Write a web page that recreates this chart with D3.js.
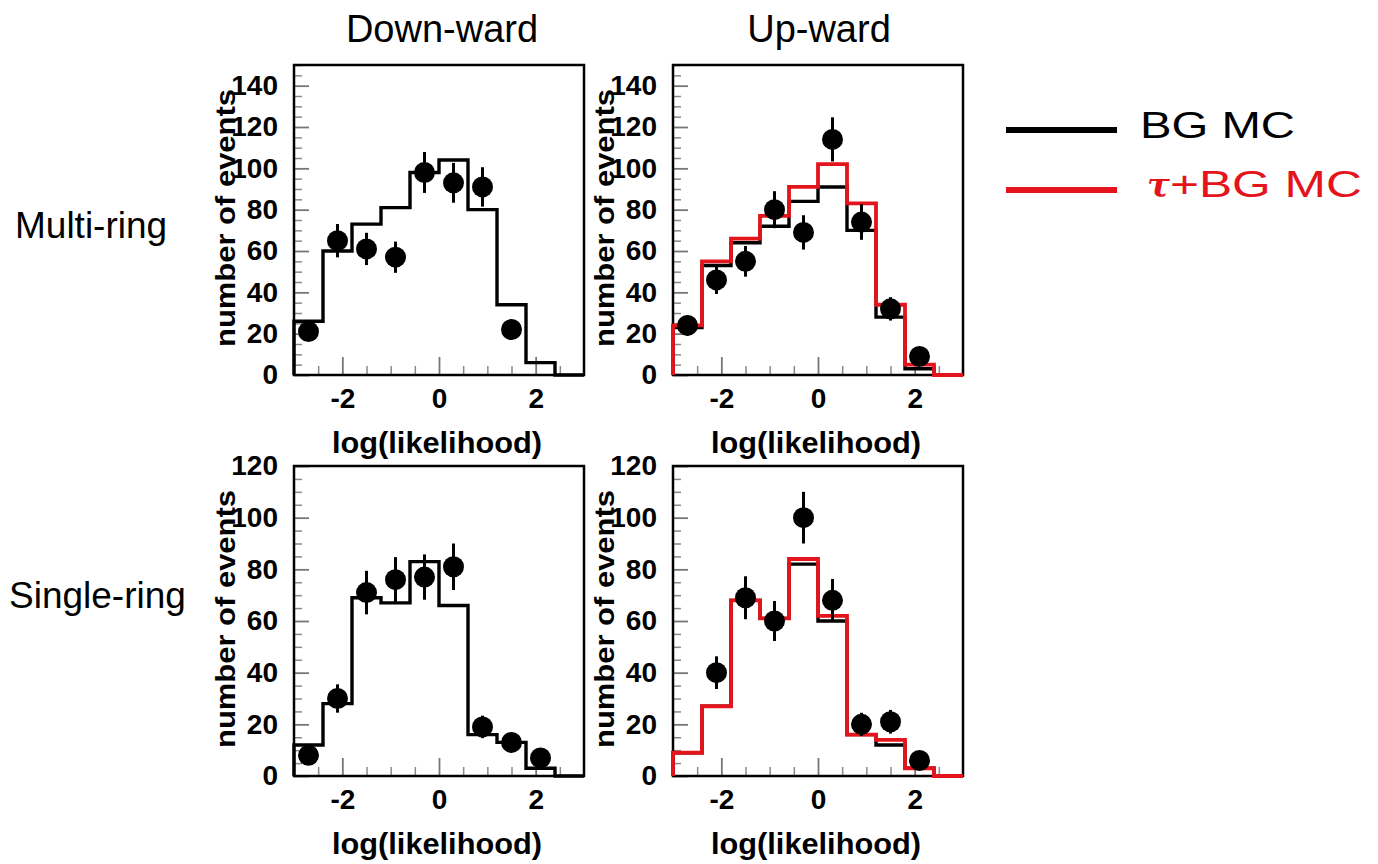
<!DOCTYPE html>
<html>
<head>
<meta charset="utf-8">
<script src="https://cdn.jsdelivr.net/npm/d3@7"></script>
<style>
  html, body { margin: 0; padding: 0; background: #fff; }
  svg { display: block; }
  text { font-family: "Liberation Sans", Arial, Helvetica, sans-serif; }
</style>
</head>
<body>
<svg id="chart" width="1378" height="864"></svg>
<script>
// Histogram binning (log-likelihood), shared by all four panels
const binEdges   = [-3, -2.4, -1.8, -1.2, -0.6, 0, 0.6, 1.2, 1.8, 2.4, 3];
const binCenters = [-2.7, -2.1, -1.5, -0.9, -0.3, 0.3, 0.9, 1.5, 2.1, 2.7];

// Multi-ring, down-ward
const downMultiBG   = [26, 60, 73, 81, 98, 104, 80, 34, 6, 0];
const downMultiData = [21, 65, 61, 57, 98, 93, 91, 22, null, null];

// Multi-ring, up-ward
const upMultiBG   = [23, 53, 64, 72, 84, 91, 70, 28, 3, 0];
const upMultiTau  = [24, 55, 66, 77, 91, 102, 83, 34, 5, 0];
const upMultiData = [24, 46, 55, 80, 69, 114, 74, 32, 9, null];

// Single-ring, down-ward
const downSingleBG   = [12, 28, 69, 67, 83, 66, 16, 13, 3, 0];
const downSingleData = [8, 30, 71, 76, 77, 81, 19, 13, 7, null];

// Single-ring, up-ward
const upSingleBG   = [9, 27, 68, 61, 82, 60, 16, 12, 3, 0];
const upSingleTau  = [9, 27, 68, 61, 84, 62, 16, 14, 3, 0];
const upSingleData = [null, 40, 69, 60, 100, 68, 20, 21, 6, null];

// Axis ticks
const xTickLabels   = [-2, 0, 2];
const xMinorTicks   = [-2.5, -1.5, -1, -0.5, 0.5, 1, 1.5, 2.5];
const yTicksMulti   = [0, 20, 40, 60, 80, 100, 120, 140];
const yTicksSingle  = [0, 20, 40, 60, 80, 100, 120];

// Text
const columnTitles = ["Down-ward", "Up-ward"];
const rowTitles    = ["Multi-ring", "Single-ring"];
const xTitle = "log(likelihood)";
const yTitle = "number of events";
const legendLabels = ["BG MC", "+BG MC"];

const RED = "#e3141c";
const svg = d3.select("#chart");

const colX = [294, 673];
const rowY = [65, 466];
const PW = 290, PH = 310;

const panels = [
  { col: 0, row: 0, yMax: 150, yTicks: yTicksMulti,  bg: downMultiBG,  tau: null,        data: downMultiData },
  { col: 1, row: 0, yMax: 150, yTicks: yTicksMulti,  bg: upMultiBG,    tau: upMultiTau,  data: upMultiData },
  { col: 0, row: 1, yMax: 120, yTicks: yTicksSingle, bg: downSingleBG, tau: null,        data: downSingleData },
  { col: 1, row: 1, yMax: 120, yTicks: yTicksSingle, bg: upSingleBG,   tau: upSingleTau, data: upSingleData }
];

function stepPoints(values) {
  const pts = [[binEdges[0], 0]];
  values.forEach((v, i) => pts.push([binEdges[i], v]));
  pts.push([binEdges[binEdges.length - 1], values[values.length - 1]]);
  pts.push([binEdges[binEdges.length - 1], 0]);
  return pts;
}

const plainNumber = d => String(d);

panels.forEach(p => {
  const x0 = colX[p.col], y0 = rowY[p.row];
  const x = d3.scaleLinear().domain([-3, 3]).range([x0, x0 + PW]);
  const y = d3.scaleLinear().domain([0, p.yMax]).range([y0 + PH, y0]);
  const g = svg.append("g");

  // minor ticks (inside the frame)
  const yMinor = d3.range(0, p.yMax + 0.1, 5).filter(v => v % 20 !== 0);
  g.append("g").attr("transform", `translate(${x0},0)`)
    .call(d3.axisLeft(y).tickValues(yMinor).tickSize(-8).tickFormat(""))
    .call(s => s.select(".domain").remove())
    .call(s => s.selectAll("line").attr("stroke", "#8a8a8a").attr("stroke-width", 1.5));
  g.append("g").attr("transform", `translate(0,${y0 + PH})`)
    .call(d3.axisBottom(x).tickValues(xMinorTicks).tickSize(-9).tickFormat(""))
    .call(s => s.select(".domain").remove())
    .call(s => s.selectAll("line").attr("stroke", "#8a8a8a").attr("stroke-width", 1.5));

  // major ticks with labels
  g.append("g").attr("transform", `translate(${x0},0)`)
    .call(d3.axisLeft(y).tickValues(p.yTicks).tickSize(-15).tickPadding(16).tickFormat(plainNumber))
    .call(s => s.select(".domain").remove())
    .call(s => s.selectAll("line").attr("stroke", "#777").attr("stroke-width", 1.8))
    .call(s => s.selectAll("text").attr("font-size", 28).attr("font-weight", "bold")
      .attr("fill", "#000").style("font-family", "'Liberation Sans', Arial, sans-serif"));
  g.append("g").attr("transform", `translate(0,${y0 + PH})`)
    .call(d3.axisBottom(x).tickValues(xTickLabels).tickSize(-18).tickPadding(13).tickFormat(plainNumber))
    .call(s => s.select(".domain").remove())
    .call(s => s.selectAll("line").attr("stroke", "#777").attr("stroke-width", 1.8))
    .call(s => s.selectAll("text").attr("font-size", 28).attr("font-weight", "bold")
      .attr("fill", "#000").style("font-family", "'Liberation Sans', Arial, sans-serif"));

  // frame
  g.append("rect").attr("x", x0).attr("y", y0).attr("width", PW).attr("height", PH)
    .attr("fill", "none").attr("stroke", "#000").attr("stroke-width", 2.5);

  const line = d3.line().x(d => x(d[0])).y(d => y(d[1])).curve(d3.curveStepAfter);

  g.append("path").attr("d", line(stepPoints(p.bg)))
    .attr("fill", "none").attr("stroke", "#000").attr("stroke-width", 3.4);
  if (p.tau) {
    g.append("path").attr("d", line(stepPoints(p.tau)))
      .attr("fill", "none").attr("stroke", RED).attr("stroke-width", 3.8);
  }

  // observed data with statistical error bars
  const pts = p.data.map((v, i) => ({ x: binCenters[i], v })).filter(d => d.v !== null);
  g.selectAll(".err").data(pts).join("line")
    .attr("x1", d => x(d.x)).attr("x2", d => x(d.x))
    .attr("y1", d => y(d.v + Math.sqrt(d.v))).attr("y2", d => y(Math.max(0, d.v - Math.sqrt(d.v))))
    .attr("stroke", "#000").attr("stroke-width", 3);
  g.selectAll(".pt").data(pts).join("circle")
    .attr("cx", d => x(d.x)).attr("cy", d => y(d.v)).attr("r", 10.5).attr("fill", "#000");

  // axis titles
  g.append("text").attr("x", x0 + PW / 2 - 2).attr("y", y0 + PH + 78)
    .attr("text-anchor", "middle").attr("font-size", 30).attr("font-weight", "bold")
    .attr("textLength", 210).attr("lengthAdjust", "spacingAndGlyphs")
    .text(xTitle);
  g.append("text")
    .attr("transform", `translate(${x0 - 59},${y0 + PH / 2 - 2}) rotate(-90)`)
    .attr("text-anchor", "middle").attr("font-size", 28).attr("font-weight", "bold")
    .attr("textLength", 258).attr("lengthAdjust", "spacingAndGlyphs")
    .text(yTitle);
});

// column and row titles
svg.selectAll(".coltitle").data(columnTitles).join("text")
  .attr("x", (d, i) => [442, 819][i]).attr("y", 42)
  .attr("text-anchor", "middle").attr("font-size", 38).text(d => d);
svg.selectAll(".rowtitle").data(rowTitles).join("text")
  .attr("x", (d, i) => [15, 9][i]).attr("y", (d, i) => [238, 608][i])
  .attr("font-size", 37).text(d => d);

// legend
const legend = svg.append("g");
legend.append("line").attr("x1", 1006).attr("x2", 1117).attr("y1", 130).attr("y2", 130)
  .attr("stroke", "#000").attr("stroke-width", 6);
legend.append("line").attr("x1", 1006).attr("x2", 1117).attr("y1", 190).attr("y2", 190)
  .attr("stroke", RED).attr("stroke-width", 6);
legend.append("text").attr("x", 1140).attr("y", 138).attr("font-size", 37)
  .attr("textLength", 155).attr("lengthAdjust", "spacingAndGlyphs")
  .attr("fill", "#000").text(legendLabels[0]);
const t2 = legend.append("text").attr("x", 1147).attr("y", 197).attr("font-size", 37)
  .attr("fill", RED);
t2.append("tspan").attr("font-style", "italic").attr("font-weight", "bold")
  .style("font-family", "'DejaVu Serif', serif").attr("font-size", 34).text("τ");
t2.append("tspan").attr("textLength", 192).attr("lengthAdjust", "spacingAndGlyphs")
  .text(legendLabels[1]);
</script>
</body>
</html>
